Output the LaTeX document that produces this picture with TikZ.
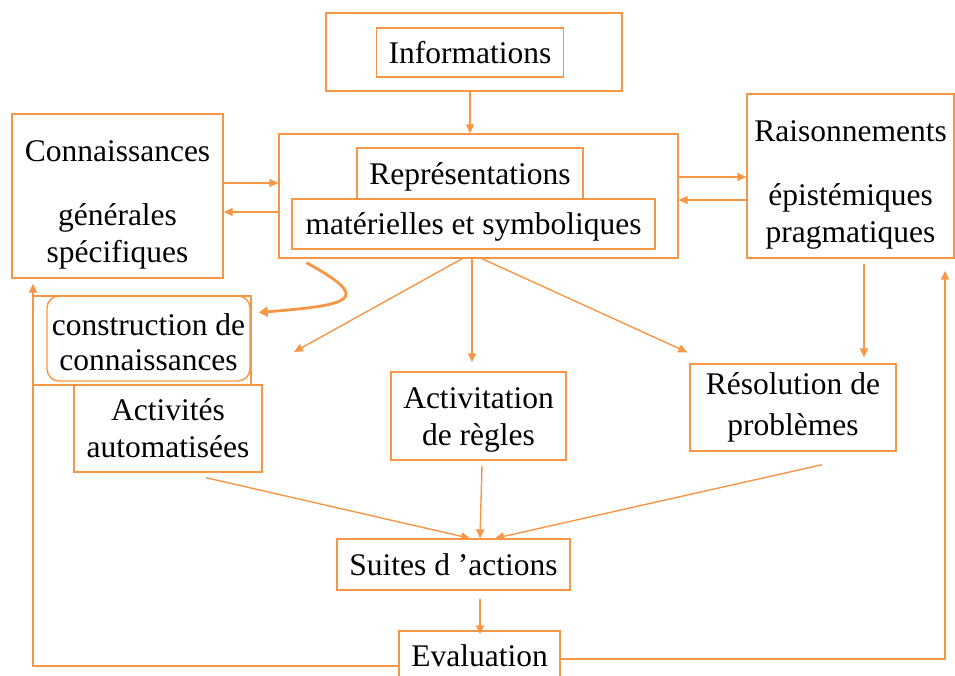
\documentclass[tikz,border=0pt]{standalone}
\usepackage{fontspec}
\setmainfont{Liberation Serif}
\usetikzlibrary{arrows.meta}
\definecolor{boxorange}{RGB}{247,150,70}
\begin{document}
\begin{tikzpicture}[x=1pt,y=-1pt,
  every node/.style={font=\fontsize{31.5}{37}\selectfont, text=black, align=center, inner sep=0pt},
  box/.style 2 args={draw=boxorange, line width=1.4pt, minimum width=#1, minimum height=#2},
  link/.style={draw=boxorange, line width=1.4pt, -{Triangle[length=9pt,width=8pt]}},
  thicklink/.style={draw=boxorange, line width=2.8pt, -{Triangle[length=9pt,width=10pt]}}]
\useasboundingbox (0,0) rectangle (955,675);
\clip (0,0) rectangle (955,675);

% boxes
\node[box={296pt}{78pt}] (infoO) at (474,52) {};
\node[box={187pt}{49pt}] (infoI) at (470,52.5) {Informations};
\node[box={399pt}{124pt}] (repO) at (478.5,196) {};
\node[box={226pt}{51pt}, fill=white] (repA) at (470,173.5) {};
\node (repAT) at ([yshift=-3pt]repA) {Représentations};
\node[box={363pt}{50pt}, fill=white] (repB) at (473.5,224) {};
\node (repBT) at ([yshift=-3pt]repB) {matérielles et symboliques};
\node[box={211pt}{164pt}] (know) at (117.5,196) {};
\node (knowT) at ([yshift=-9pt]know) {Connaissances\\[27pt]générales\\spécifiques};
\node[box={207pt}{164pt}] (rais) at (850.5,176) {};
\node (raisT) at ([yshift=-9pt]rais) {Raisonnements\\[27pt]épistémiques\\pragmatiques};
\node[box={218pt}{89pt}] (constrO) at (142,340.5) {};
\node[box={203pt}{85pt}, rounded corners=12pt] (constr) at (148.5,338.5) {};
\node (constrT) at ([yshift=-4pt]constr) {construction de\\[-2pt]connaissances};
\node[box={188pt}{87pt}] (act) at (168,428.5) {Activités\\automatisées};
\node[box={175pt}{88pt}] (activ) at (478.5,416) {};
\node (activT) at ([yshift=-4pt]activ) {Activitation\\de règles};
\node[box={206pt}{87pt}] (resol) at (793,407.5) {Résolution de\\[4pt]problèmes};
\node[box={233pt}{51pt}] (suites) at (453.5,564.5) {Suites d ’actions};
\node[box={161pt}{50pt}] (eval) at (479.5,656) {Evaluation};

% helper coordinates for connector rows and columns
\coordinate (h183) at (0,183);
\coordinate (h212) at (0,212);
\coordinate (h177) at (0,177);
\coordinate (h200) at (0,200);
\coordinate (vL) at (462,0);
\coordinate (vM) at (472,0);
\coordinate (vR) at (482,0);
\coordinate (vD) at (864,0);
\coordinate (vE) at (480,0);
\coordinate (freeL) at (294,352);
\coordinate (fbL) at (33,666);
\coordinate (fbR) at (945,659);

% top part
\draw[link] (infoI.center |- infoO.south) -- (infoI.center |- repO.north);
\draw[link] (know.east |- h183) -- (repO.west |- h183);
\draw[link] (repO.west |- h212) -- (know.east |- h212);
\draw[link] (repO.east |- h177) -- (rais.west |- h177);
\draw[link] (rais.west |- h200) -- (repO.east |- h200);

% curved arrow towards knowledge construction
\draw[thicklink] ([shift={(28,4)}]repO.south west) .. controls (375,300) and (350,305) .. ([shift={(7,-28)}]constrO.east);

% fan out of the representations
\draw[link] (vL |- repO.south) -- (freeL);
\draw[link, shorten >=9pt] (vM |- repO.south) -- (vM |- activ.north);
\draw[link] (vR |- repO.south) -- ([shift={(-2,-11)}]resol.north west);
\draw[link, shorten <=5pt, shorten >=6pt] (vD |- rais.south) -- (vD |- resol.north);

% towards the action sequences
\draw[link] ([shift={(38,5)}]act.south) -- ([xshift=16.5pt]suites.north);
\draw[link] ([shift={(3.5,5)}]activ.south) -- ([xshift=26.5pt]suites.north);
\draw[link] ([shift={(29,13)}]resol.south) -- ([xshift=41.5pt]suites.north);
\draw[link, shorten <=8pt, shorten >=-4pt] (vE |- suites.south) -- (vE |- eval.north);

% feedback loops
\draw[link, shorten >=5pt] (eval.west |- fbL) -| (fbL |- know.south);
\draw[link, shorten >=12pt] (eval.east |- fbR) -| (fbR |- rais.south);
\end{tikzpicture}
\end{document}
